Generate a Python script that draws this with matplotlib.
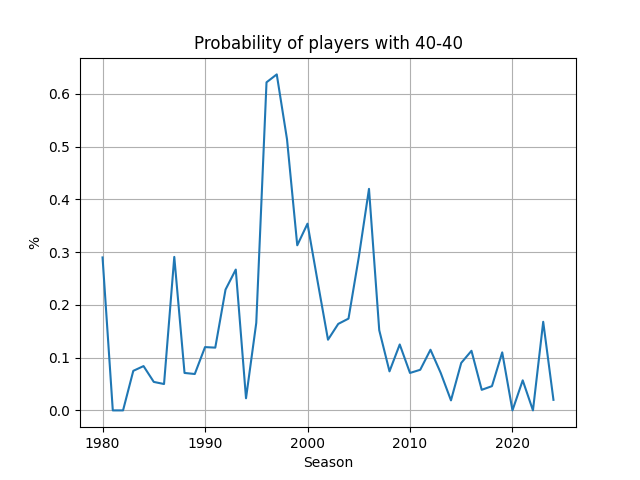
import matplotlib
matplotlib.use("Agg")
import matplotlib.pyplot as plt

seasons = list(range(1980, 2025))
probability = [
    0.290, 0.0, 0.0, 0.075, 0.084, 0.054, 0.050, 0.291, 0.071, 0.069,
    0.120, 0.119, 0.229, 0.267, 0.023, 0.166, 0.622, 0.637, 0.514, 0.313,
    0.354, 0.243, 0.134, 0.164, 0.174, 0.290, 0.420, 0.152, 0.074, 0.125,
    0.071, 0.077, 0.115, 0.071, 0.019, 0.090, 0.113, 0.039, 0.046, 0.110,
    0.0, 0.057, 0.0, 0.168, 0.020,
]

fig, ax = plt.subplots(figsize=(6.4, 4.8), dpi=100)
ax.plot(seasons, probability)
ax.set_title("Probability of players with 40-40")
ax.set_xlabel("Season")
ax.set_ylabel("%")
ax.grid(True)
fig.savefig("out.png")
